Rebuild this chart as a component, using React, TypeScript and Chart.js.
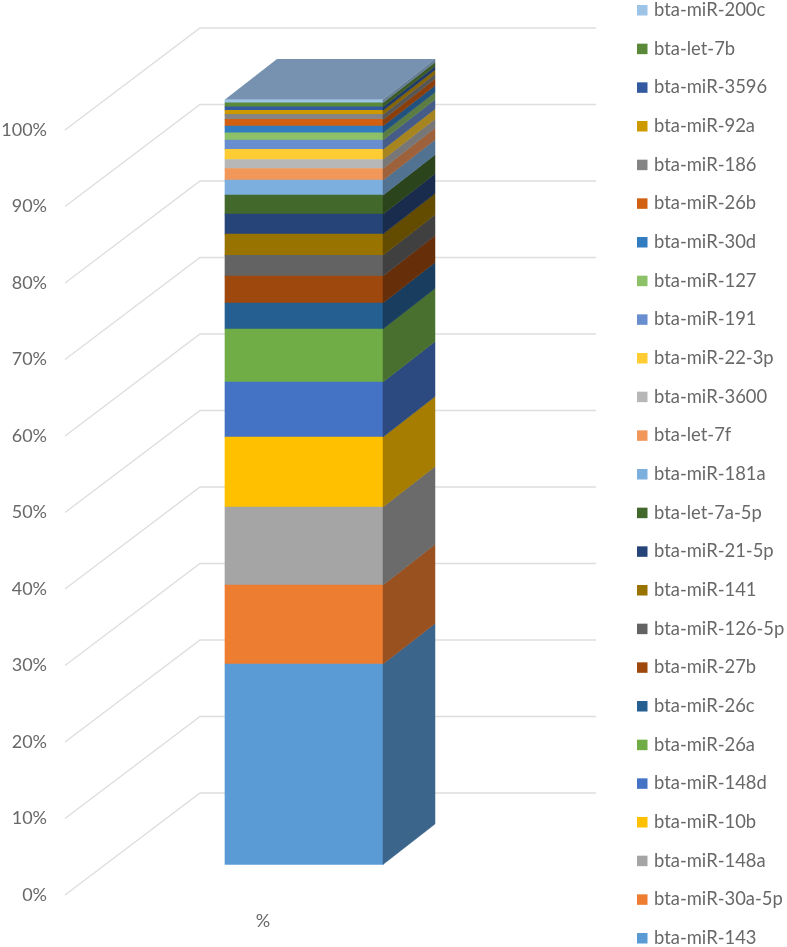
import React, { useEffect, useRef } from "react";
import { Chart, registerables } from "chart.js";

Chart.register(...registerables);

const categories = ["%"];
const tickValues = [0, 10, 20, 30, 40, 50, 60, 70, 80, 90, 100];
const seriesNames = [
  "bta-miR-143", "bta-miR-30a-5p", "bta-miR-148a", "bta-miR-10b", "bta-miR-148d",
  "bta-miR-26a", "bta-miR-26c", "bta-miR-27b", "bta-miR-126-5p", "bta-miR-141",
  "bta-miR-21-5p", "bta-let-7a-5p", "bta-miR-181a", "bta-let-7f", "bta-miR-3600",
  "bta-miR-22-3p", "bta-miR-191", "bta-miR-127", "bta-miR-30d", "bta-miR-26b",
  "bta-miR-186", "bta-miR-92a", "bta-miR-3596", "bta-let-7b", "bta-miR-200c",
];
const seriesValues = [
  26.2, 10.33, 10.2, 9.15, 7.19,
  6.93, 3.4, 3.53, 2.7, 2.78,
  2.6, 2.48, 1.96, 1.53, 1.18,
  1.31, 1.22, 0.95, 0.88, 0.88,
  0.65, 0.52, 0.47, 0.52, 0.44,
];
const seriesColors = [
  "#5B9BD5", "#ED7D31", "#A5A5A5", "#FFC000", "#4472C4",
  "#70AD47", "#255E91", "#9E480E", "#636363", "#997300",
  "#264478", "#43682B", "#7CAFDD", "#F1975A", "#B7B7B7",
  "#FFCD33", "#698ED0", "#8CC168", "#327DC2", "#D26012",
  "#848484", "#CC9A00", "#335AA1", "#5A8A39", "#9DC3E6",
];

const FONT = "Lato";
const TEXT = "#686868";
const SIDE_DX = 52;
const SIDE_DY = -40.5;

function darken(hex: string, k: number) {
  const n = parseInt(hex.slice(1), 16);
  const c = [(n >> 16) & 255, (n >> 8) & 255, n & 255].map((v) => Math.round(v * k));
  return `rgb(${c[0]},${c[1]},${c[2]})`;
}

const wallGrid = {
  id: "wallGrid",
  beforeDatasetsDraw(chart: any) {
    const { ctx } = chart;
    const s = chart.scales.y2;
    ctx.save();
    ctx.strokeStyle = "#dedede";
    ctx.lineWidth = 1.4;
    s.ticks.forEach((t: any) => {
      const p = s.getPixelForValue(t.value);
      ctx.beginPath();
      ctx.moveTo(65, p);
      ctx.lineTo(200, p - 102);
      ctx.lineTo(596, p - 102);
      ctx.stroke();
    });
    ctx.restore();
  },
};

const barDepth = {
  id: "barDepth",
  afterDatasetsDraw(chart: any) {
    const { ctx } = chart;
    ctx.save();
    let topLeft = 0, topRight = 0, topY = 1e9;
    chart.data.datasets.forEach((ds: any, i: number) => {
      const el = chart.getDatasetMeta(i).data[0];
      const r = el.x + el.width / 2;
      const l = el.x - el.width / 2;
      const col = darken(ds.backgroundColor, 0.65);
      ctx.fillStyle = col;
      ctx.strokeStyle = col;
      ctx.lineWidth = 0.5;
      ctx.beginPath();
      ctx.moveTo(r, el.base);
      ctx.lineTo(r + SIDE_DX, el.base + SIDE_DY);
      ctx.lineTo(r + SIDE_DX, el.y + SIDE_DY);
      ctx.lineTo(r, el.y);
      ctx.closePath();
      ctx.fill();
      ctx.stroke();
      topLeft = l; topRight = r; topY = Math.min(topY, el.y);
    });
    ctx.fillStyle = "#7792B0";
    ctx.beginPath();
    ctx.moveTo(topLeft, topY);
    ctx.lineTo(topLeft + SIDE_DX, topY + SIDE_DY);
    ctx.lineTo(topRight + SIDE_DX, topY + SIDE_DY);
    ctx.lineTo(topRight, topY);
    ctx.closePath();
    ctx.fill();
    ctx.restore();
  },
};

const sideLegend = {
  id: "sideLegend",
  afterDraw(chart: any) {
    const { ctx } = chart;
    ctx.save();
    ctx.font = `18.4px ${FONT}`;
    ctx.textBaseline = "middle";
    ctx.textAlign = "left";
    const n = seriesNames.length;
    seriesNames.forEach((name, i) => {
      const y = 938 - i * (928 / (n - 1));
      ctx.fillStyle = seriesColors[i];
      ctx.fillRect(637, y - 5, 10.5, 10.5);
      ctx.fillStyle = TEXT;
      ctx.fillText(name, 654, y);
    });
    ctx.restore();
  },
};

export default function App() {
  const ref = useRef<HTMLCanvasElement>(null);
  useEffect(() => {
    const chart = new Chart(ref.current as HTMLCanvasElement, {
      type: "bar",
      data: {
        labels: categories,
        datasets: seriesNames.map((name, i) => ({
          label: name,
          data: [seriesValues[i]],
          backgroundColor: seriesColors[i],
          borderWidth: 0,
          barThickness: 158,
          yAxisID: "y",
        })),
      },
      options: {
        responsive: false,
        animation: false,
        layout: { autoPadding: false, padding: { top: 20, left: 0, right: 0, bottom: 0 } },
        plugins: { legend: { display: false }, tooltip: { enabled: false } },
        scales: {
          x: {
            stacked: true,
            grid: { display: false, drawTicks: false },
            border: { display: false },
            ticks: {
              color: TEXT,
              font: { family: FONT, size: 18 },
              labelOffset: -41,
              padding: 10,
              maxRotation: 0,
            },
            afterFit: (s: any) => { s.height = 47; s.paddingLeft = 0; s.paddingRight = 0; },
          },
          y: {
            stacked: true,
            position: "right",
            min: -4.64,
            max: 110.39,
            grid: { display: false, drawTicks: false },
            border: { display: false },
            ticks: { display: false },
            afterFit: (s: any) => { s.width = 244; s.paddingTop = 0; s.paddingBottom = 0; },
          },
          y2: {
            position: "left",
            min: -0.654,
            max: 114.38,
            grid: { display: false, drawTicks: false },
            border: { display: false },
            ticks: {
              color: TEXT,
              font: { family: FONT, size: 18 },
              padding: 18,
              callback: (v: any) => `${v}%`,
            },
            afterBuildTicks: (s: any) => { s.ticks = tickValues.map((value) => ({ value })); },
            afterFit: (s: any) => { s.width = 65; s.paddingTop = 0; s.paddingBottom = 0; },
          },
        },
      },
      plugins: [wallGrid, barDepth, sideLegend],
    } as any);
    return () => chart.destroy();
  }, []);
  return (
    <div style={{ position: "absolute", left: 0, top: 0, width: 787, height: 947, background: "#fff" }}>
      <canvas ref={ref} width={787} height={947} style={{ display: "block" }} />
    </div>
  );
}
